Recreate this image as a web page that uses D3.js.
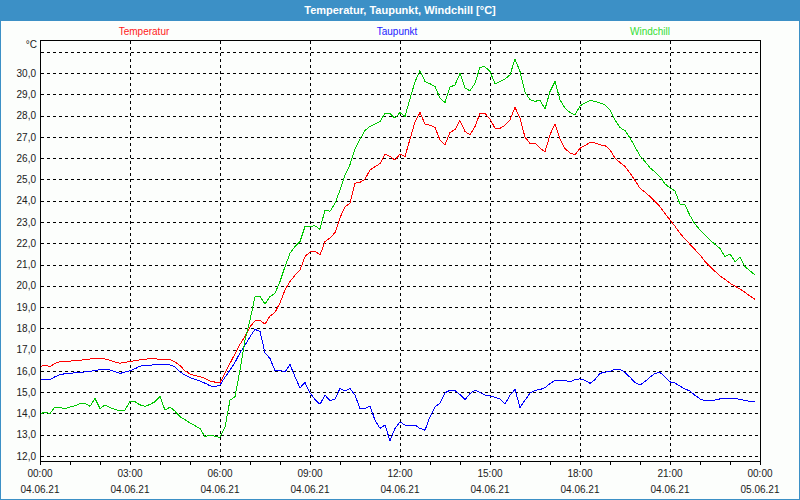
<!DOCTYPE html>
<html lang="de">
<head>
	<meta charset="UTF-8">
	<title>Temperatur, Taupunkt, Windchill</title>
	<style>
		body { margin: 0; background: #fff; }
		svg { display: block; font-family: "Liberation Sans", Arial, sans-serif; }
	</style>
</head>
<body>

	<script src="https://cdn.jsdelivr.net/npm/d3@7"></script>

	<script type="text/javascript">

		var width = 800,
			height = 500;

		var chartTitle = "Temperatur, Taupunkt, Windchill [°C]";
		var seriesNames = [ "Temperatur", "Taupunkt", "Windchill" ];
		var seriesColors = [ "#ff0000", "#0000ff", "#00c800" ];
		var legendColors = [ "#ff1a1a", "#1a1aff", "#33dd33" ];

		// minutes since 04.06.21 00:00, one reading every 10 minutes
		var minutes = [
			0, 10, 20, 30, 40, 50, 60, 70, 80, 90, 100, 110,
			120, 130, 140, 150, 160, 170, 180, 190, 200, 210, 220, 230,
			240, 250, 260, 270, 280, 290, 300, 310, 320, 330, 340, 350,
			360, 370, 380, 390, 400, 410, 420, 430, 440, 450, 460, 470,
			480, 490, 500, 510, 520, 530, 540, 550, 560, 570, 580, 590,
			600, 610, 620, 630, 640, 650, 660, 670, 680, 690, 700, 710,
			720, 730, 740, 750, 760, 770, 780, 790, 800, 810, 820, 830,
			840, 850, 860, 870, 880, 890, 900, 910, 920, 930, 940, 950,
			960, 970, 980, 990, 1000, 1010, 1020, 1030, 1040, 1050, 1060, 1070,
			1080, 1090, 1100, 1110, 1120, 1130, 1140, 1150, 1160, 1170, 1180, 1190,
			1200, 1210, 1220, 1230, 1240, 1250, 1260, 1270, 1280, 1290, 1300, 1310,
			1320, 1330, 1340, 1350, 1360, 1370, 1380, 1390, 1400, 1410, 1420, 1430
		];

		var temperatur = [
			16.19, 16.27, 16.20, 16.35, 16.44, 16.45, 16.46, 16.47, 16.50, 16.52, 16.56, 16.58,
			16.58, 16.56, 16.50, 16.42, 16.36, 16.40, 16.44, 16.48, 16.52, 16.55, 16.57, 16.56,
			16.55, 16.55, 16.54, 16.42, 16.25, 16.00, 15.85, 15.78, 15.72, 15.65, 15.52, 15.47,
			15.45, 15.90, 16.35, 16.80, 17.25, 17.62, 18.07, 18.35, 18.38, 18.20, 18.58, 18.75,
			19.20, 19.80, 20.20, 20.50, 20.74, 21.37, 21.60, 21.63, 21.45, 22.08, 22.25, 22.50,
			23.20, 23.72, 23.88, 24.82, 24.87, 25.01, 25.45, 25.60, 25.75, 26.19, 26.08, 25.92,
			26.20, 26.08, 26.90, 27.70, 28.15, 27.61, 27.55, 27.45, 26.86, 26.63, 27.21, 27.35,
			27.77, 27.26, 27.10, 27.49, 28.12, 28.10, 27.84, 27.41, 27.41, 27.55, 27.80, 28.40,
			27.88, 26.99, 26.70, 26.70, 26.48, 26.30, 27.10, 27.62, 26.90, 26.45, 26.25, 26.16,
			26.47, 26.60, 26.74, 26.72, 26.63, 26.60, 26.39, 26.00, 25.80, 25.61, 25.30, 24.95,
			24.59, 24.40, 24.20, 23.96, 23.72, 23.40, 23.10, 22.80, 22.47, 22.20, 21.95, 21.70,
			21.45, 21.15, 20.90, 20.68, 20.46, 20.30, 20.12, 19.98, 19.85, 19.69, 19.52, 19.36
		];

		var taupunkt = [
			15.59, 15.59, 15.60, 15.72, 15.83, 15.86, 15.88, 15.91, 15.93, 15.95, 15.97, 16.02,
			16.05, 16.06, 16.04, 15.96, 15.88, 15.94, 16.00, 16.10, 16.22, 16.25, 16.27, 16.28,
			16.28, 16.28, 16.28, 16.18, 15.95, 15.80, 15.68, 15.60, 15.52, 15.42, 15.30, 15.25,
			15.33, 15.70, 16.03, 16.40, 16.85, 17.20, 17.60, 17.95, 17.85, 16.85, 16.58, 16.00,
			16.03, 15.95, 16.30, 15.72, 15.20, 15.45, 14.97, 14.65, 14.43, 14.86, 14.59, 14.67,
			15.17, 15.06, 15.17, 14.86, 14.23, 14.23, 14.34, 13.68, 13.30, 13.45, 12.71, 13.29,
			13.60, 13.45, 13.45, 13.45, 13.29, 13.21, 13.84, 14.31, 14.47, 14.97, 15.09, 15.07,
			14.88, 14.65, 14.93, 15.09, 14.98, 14.86, 14.82, 14.75, 14.67, 14.43, 14.86, 15.12,
			14.28, 14.62, 14.95, 15.08, 15.12, 15.21, 15.40, 15.56, 15.56, 15.56, 15.48, 15.60,
			15.62, 15.56, 15.41, 15.59, 15.88, 15.94, 15.96, 16.08, 16.08, 15.92, 15.70, 15.45,
			15.33, 15.50, 15.70, 15.88, 15.92, 15.72, 15.48, 15.43, 15.28, 15.15, 15.05, 14.85,
			14.68, 14.59, 14.60, 14.63, 14.68, 14.72, 14.72, 14.70, 14.66, 14.60, 14.57, 14.54
		];

		var windchill = [
			13.96, 14.07, 13.99, 14.30, 14.28, 14.22, 14.30, 14.36, 14.46, 14.47, 14.33, 14.70,
			14.23, 14.39, 14.28, 14.18, 14.12, 14.15, 14.58, 14.55, 14.40, 14.33, 14.42, 14.55,
			14.80, 14.15, 14.30, 14.10, 13.84, 13.70, 13.55, 13.42, 13.29, 12.90, 12.98, 12.92,
			12.87, 13.34, 14.62, 14.78, 16.03, 17.45, 18.39, 19.49, 19.49, 19.14, 19.49, 19.65,
			20.20, 20.90, 21.53, 21.85, 22.08, 22.79, 22.80, 22.82, 22.66, 23.57, 23.50, 23.88,
			24.50, 25.20, 25.70, 26.45, 26.90, 27.30, 27.50, 27.60, 27.72, 28.12, 28.10, 27.88,
			28.15, 27.96, 28.80, 29.60, 30.12, 29.61, 29.50, 29.37, 28.83, 28.62, 29.34, 29.45,
			29.99, 29.30, 29.17, 29.53, 30.28, 30.30, 30.08, 29.50, 29.60, 29.72, 29.92, 30.66,
			30.08, 29.10, 28.75, 28.67, 28.74, 28.31, 29.14, 29.61, 28.75, 28.35, 28.15, 28.04,
			28.46, 28.60, 28.71, 28.68, 28.60, 28.51, 28.28, 27.80, 27.44, 27.30, 26.95, 26.54,
			26.10, 25.85, 25.55, 25.35, 25.13, 24.80, 24.60, 24.46, 23.84, 23.80, 23.30, 22.90,
			22.63, 22.40, 22.15, 21.95, 21.76, 21.37, 21.50, 21.13, 21.34, 20.90, 20.70, 20.51
		];

		var yTicks = [ 12, 13, 14, 15, 16, 17, 18, 19, 20, 21, 22, 23, 24, 25, 26, 27, 28, 29, 30 ];
		var yGrid = [ 12, 13, 14, 15, 16, 17, 18, 19, 20, 21, 22, 23, 24, 25, 26, 27, 28, 29, 30, 31 ];
		var xTickMinutes = [ 0, 180, 360, 540, 720, 900, 1080, 1260, 1440 ];
		var xTickTimes = [ "00:00", "03:00", "06:00", "09:00", "12:00", "15:00", "18:00", "21:00", "00:00" ];
		var xTickDates = [ "04.06.21", "04.06.21", "04.06.21", "04.06.21", "04.06.21",
							"04.06.21", "04.06.21", "04.06.21", "05.06.21" ];

		var frameColor = "#3c90c6",
			textColor = "#202020";

		var plotLeft = 40,
			plotRight = 760,
			plotTop = 40,
			plotBottom = 461;

		var svg = d3.select( "body" )
					.append( "svg" )
					.attr( "width", width )
					.attr( "height", height );

		// background + blue frame
		svg.append( "rect" )
			.attr( "x", 0.5 ).attr( "y", 0.5 )
			.attr( "width", width - 1 ).attr( "height", height - 1 )
			.attr( "fill", "#fcfefc" )
			.attr( "stroke", frameColor );

		svg.append( "rect" )
			.attr( "x", 0 ).attr( "y", 0 )
			.attr( "width", width ).attr( "height", 21 )
			.attr( "fill", frameColor );

		svg.append( "text" )
			.attr( "x", 400 ).attr( "y", 14 )
			.attr( "text-anchor", "middle" )
			.attr( "fill", "#ffffff" )
			.style( "font-size", "11px" )
			.style( "font-weight", "bold" )
			.text( chartTitle );

		// legend
		var legendX = [ 144, 397, 650 ];
		seriesNames.forEach( function( name, i ) {
			svg.append( "text" )
				.attr( "x", legendX[ i ] ).attr( "y", 34.5 )
				.attr( "text-anchor", "middle" )
				.attr( "fill", legendColors[ i ] )
				.style( "font-size", "10px" )
				.text( name );
		});

		var x = d3.scaleLinear()
					.domain( [ 0, 1440 ] )
					.range( [ plotLeft, plotRight ] );

		var y = d3.scaleLinear()
					.domain( [ 11.76, 31.56 ] )
					.range( [ plotBottom, plotTop ] );

		function snap( v ) { return Math.round( v ) + 0.5; }

		// grid
		var grid = svg.append( "g" )
						.attr( "stroke", "#000" )
						.attr( "stroke-dasharray", "3,3" )
						.attr( "shape-rendering", "crispEdges" );

		grid.selectAll( "line.h" )
			.data( yGrid )
			.enter().append( "line" )
			.attr( "class", "h" )
			.attr( "x1", plotLeft + 1 ).attr( "x2", plotRight )
			.attr( "y1", function( d ) { return snap( y( d ) ); } )
			.attr( "y2", function( d ) { return snap( y( d ) ); } );

		grid.selectAll( "line.v" )
			.data( xTickMinutes.slice( 1, -1 ) )
			.enter().append( "line" )
			.attr( "class", "v" )
			.attr( "y1", plotTop + 1 ).attr( "y2", plotBottom )
			.attr( "x1", function( d ) { return snap( x( d ) ); } )
			.attr( "x2", function( d ) { return snap( x( d ) ); } );

		// series lines
		var line = d3.line()
						.x( function( d, i ) { return x( minutes[ i ] ); } )
						.y( function( d ) { return y( d ); } );

		[ temperatur, taupunkt, windchill ].forEach( function( values, i ) {
			svg.append( "path" )
				.datum( values )
				.attr( "d", line )
				.attr( "fill", "none" )
				.attr( "stroke", seriesColors[ i ] )
				.attr( "stroke-width", 1 )
				.attr( "shape-rendering", "crispEdges" );
		});

		// plot border
		svg.append( "rect" )
			.attr( "x", plotLeft + 0.5 ).attr( "y", plotTop + 0.5 )
			.attr( "width", plotRight - plotLeft ).attr( "height", plotBottom - plotTop )
			.attr( "fill", "none" )
			.attr( "stroke", "#000" )
			.attr( "shape-rendering", "crispEdges" );

		// y axis labels
		var yAxis = d3.axisLeft( y )
						.tickValues( yTicks )
						.tickSize( 0 )
						.tickPadding( 4 )
						.tickFormat( function( d ) { return d3.format( ".1f" )( d ).replace( ".", "," ); } );

		var yAxisG = svg.append( "g" )
						.attr( "transform", "translate(" + plotLeft + ",0)" )
						.call( yAxis );
		yAxisG.select( ".domain" ).remove();
		yAxisG.selectAll( "text" )
			.attr( "fill", textColor )
			.style( "font-size", "10px" )
			.style( "font-family", "'Liberation Sans', Arial, sans-serif" );

		svg.append( "text" )
			.attr( "x", 37 ).attr( "y", 48 )
			.attr( "text-anchor", "end" )
			.attr( "fill", textColor )
			.style( "font-size", "10px" )
			.text( "°C" );

		// x axis: hourly ticks, labels every 3 hours
		var xAxis = d3.axisBottom( x )
						.tickValues( d3.range( 0, 1441, 60 ) )
						.tickSize( 4 )
						.tickFormat( "" );

		var xAxisG = svg.append( "g" )
						.attr( "transform", "translate(0," + plotBottom + ")" )
						.attr( "shape-rendering", "crispEdges" )
						.call( xAxis );
		xAxisG.select( ".domain" ).remove();

		var xLabels = svg.append( "g" )
						.attr( "fill", textColor )
						.style( "font-size", "10px" )
						.attr( "text-anchor", "middle" );

		xLabels.selectAll( "text.time" )
			.data( xTickMinutes )
			.enter().append( "text" )
			.attr( "class", "time" )
			.attr( "x", function( d ) { return x( d ); } )
			.attr( "y", 477 )
			.text( function( d, i ) { return xTickTimes[ i ]; } );

		xLabels.selectAll( "text.date" )
			.data( xTickMinutes )
			.enter().append( "text" )
			.attr( "class", "date" )
			.attr( "x", function( d ) { return x( d ); } )
			.attr( "y", 493 )
			.text( function( d, i ) { return xTickDates[ i ]; } );

	</script>
</body>
</html>
